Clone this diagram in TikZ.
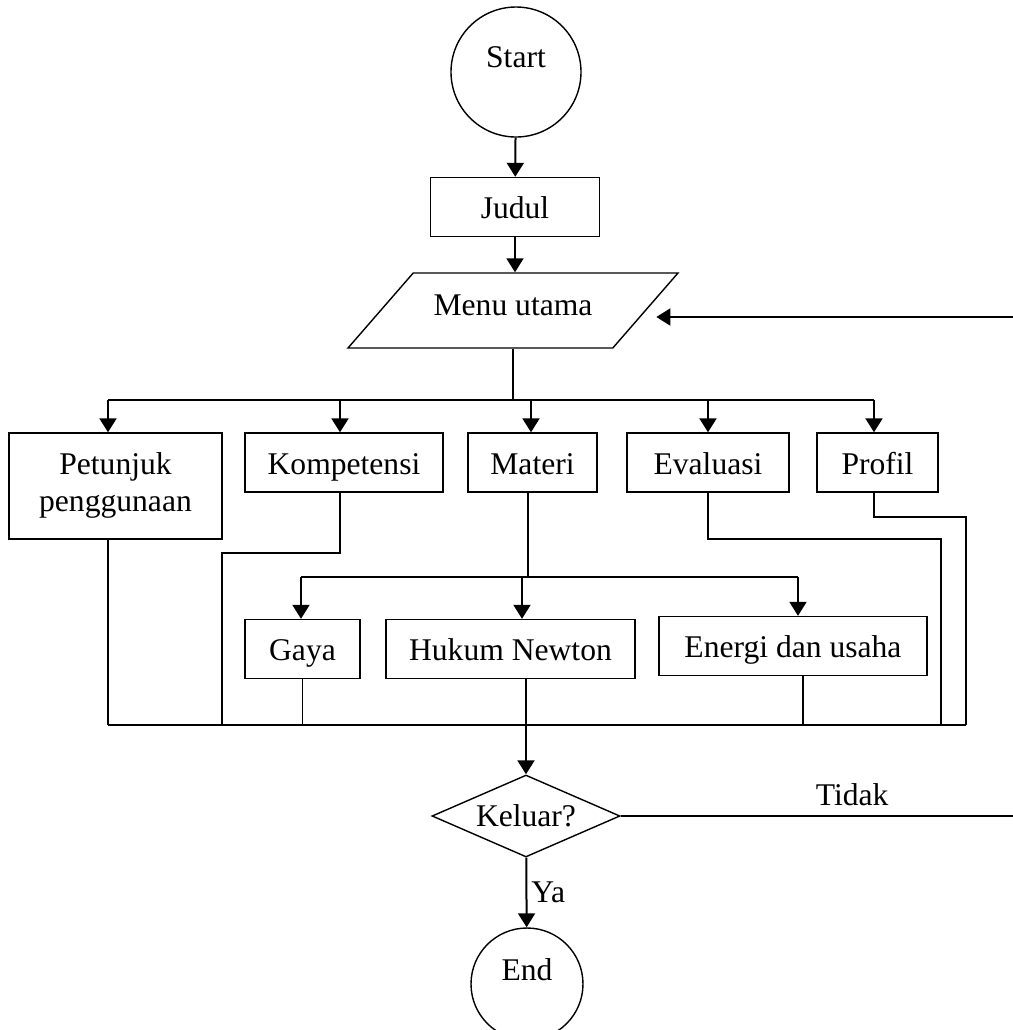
\documentclass[tikz,border=0pt]{standalone}
\usepackage{fontspec}
\setmainfont{Liberation Serif}
\usetikzlibrary{shapes.geometric,arrows.meta}

\begin{document}
\begin{tikzpicture}[x=0.5pt, y=-0.5pt, font=\fontsize{15.8}{18.5}\selectfont,
    main/.style = {draw, rectangle, line width=0.7pt, inner sep=0pt, align=center, minimum height=29.5pt,
                   text height=13.5pt, text depth=2pt},
    term/.style = {draw, ellipse, line width=0.7pt, inner sep=0pt},
    line/.style = {line width=0.7pt},
    arr/.style = {line width=1pt, -{Triangle[length=7pt,width=8.5pt]}}]
        \useasboundingbox (0,0) rectangle (1013,1030);

        \node[term, minimum width=65pt, minimum height=65pt, text depth=15pt] (1) at (516,72) {Start};
        \node[main, minimum width=84.5pt] (2) at (515,207) {Judul};
        \node[draw, trapezium, trapezium left angle=49, trapezium right angle=131, trapezium stretches body=true,
              line width=0.7pt, inner sep=0pt, text height=21pt, text depth=16.5pt, minimum width=165pt] (3) at (513,310.5) {Menu utama};

        \node[main, minimum width=106.5pt, minimum height=53pt, text height=27pt, text depth=2pt] (4) at (115.5,486) {Petunjuk\\penggunaan};
        \node[main, minimum width=99pt] (5) at (344,462.5) {Kompetensi};
        \node[main, minimum width=64.5pt] (6) at (532.5,462.5) {Materi};
        \node[main, minimum width=81pt] (7) at (708,462.5) {Evaluasi};
        \node[main, minimum width=60.5pt] (8) at (877.5,462.5) {Profil};

        \node[main, minimum width=57.5pt] (9) at (302.5,649) {Gaya};
        \node[main, minimum width=124.5pt] (10) at (510.5,649) {Hukum Newton};
        \node[main, minimum width=134pt] (11) at (793,646) {Energi dan usaha};

        \node[draw, diamond, shape aspect=2.3, line width=0.7pt, inner sep=0pt, minimum width=94pt, minimum height=41pt] (12) at (526,816) {Keluar?};
        \node[term, minimum width=56pt, minimum height=56pt, text depth=14pt] (13) at (527,984) {End};

        % bus points
        \coordinate (m0) at (513,400);
        \coordinate (a1) at (108,400);
        \coordinate (a2) at (340,400);
        \coordinate (a3) at (531,400);
        \coordinate (a4) at (708,400);
        \coordinate (a5) at (874,400);
        \coordinate (s0) at (528,577);
        \coordinate (g1) at (301,577);
        \coordinate (g2) at (522,577);
        \coordinate (g3) at (798,577);
        \coordinate (e1) at (108,725);
        \coordinate (e2) at (966,725);
        \coordinate (d0) at (526,725);
        \coordinate (k1) at (222,553);
        \coordinate (v1) at (941,539);
        \coordinate (p1) at (966,517);
        \coordinate (n1) at (803,725);
        \coordinate (r1) at (1013,317);
        \coordinate (r2) at ([xshift=5pt]3.east);
        \coordinate (t1) at (1013,816);

        \draw[arr] (1) -- (2);
        \draw[arr] (2) -- (2 |- 3.north);
        \draw[line] (3.south -| m0) -- (m0);
        \draw[line] (a1) -- (a5);
        \draw[arr] (a1) -- (a1 |- 4.north);
        \draw[arr] (a2) -- (a2 |- 5.north);
        \draw[arr] (a3) -- (a3 |- 6.north);
        \draw[arr] (a4) -- (a4 |- 7.north);
        \draw[arr] (a5) -- (a5 |- 8.north);

        \draw[line] (6.south -| s0) -- (s0);
        \draw[line] (g1) -- (g3);
        \draw[arr] (g1) -- (g1 |- 9.north);
        \draw[arr] (g2) -- (g2 |- 10.north);
        \draw[arr] (g3) -- (g3 |- 11.north);

        \draw[line] (e1) -- (e2);
        \draw[line] (a1 |- 4.south) -- (e1);
        \draw[line] (a2 |- 5.south) |- (k1) -- (k1 |- e1);
        \draw[line] (9.south) -- (9.south |- e1);
        \draw[line] (10.south -| d0) -- (d0);
        \draw[line] (11.south -| n1) -- (n1);
        \draw[line] (7.south) |- (v1) -- (v1 |- e1);
        \draw[line] (a5 |- 8.south) |- (p1) -- (e2);

        \draw[arr] (d0) -- (12);
        \draw[arr] (12) -- node[right, inner sep=2pt] {Ya} (13);
        \draw[line] (12.east) -- node[pos=0.59, above, inner sep=5pt] {Tidak} (t1);
        \draw[arr] (r1) -- (r1 -| r2);

    \end{tikzpicture}
\end{document}
